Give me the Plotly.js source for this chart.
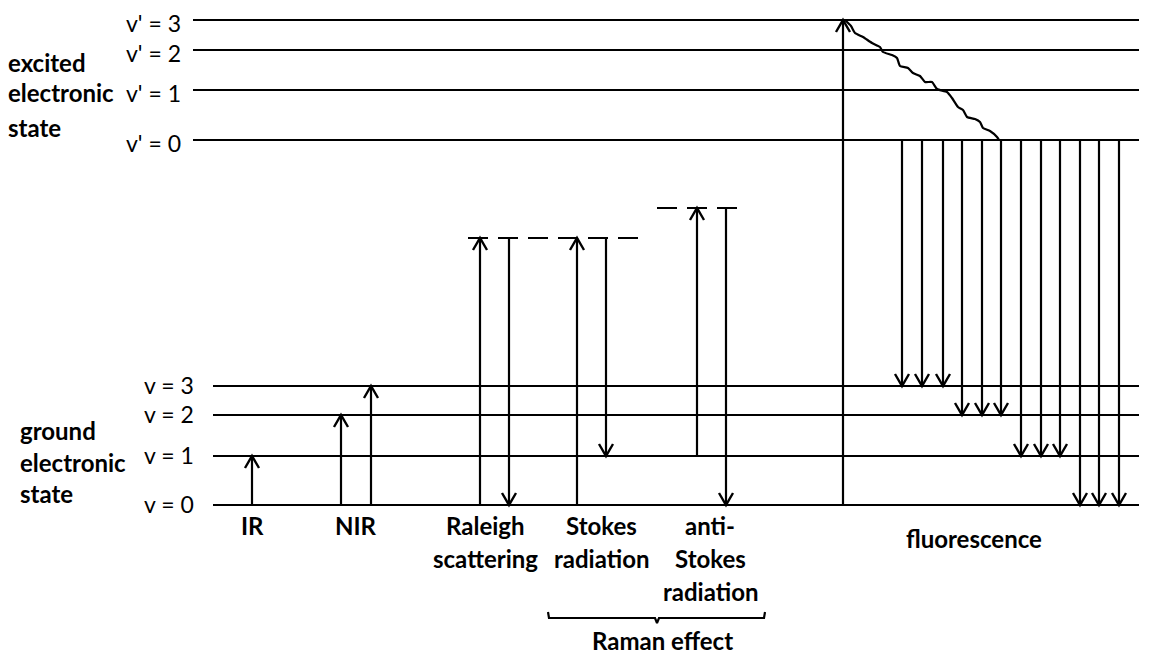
<!DOCTYPE html>
<html><head><meta charset="utf-8">
<script src="https://cdn.plot.ly/plotly-3.0.1.min.js"></script>
<style>html,body{margin:0;padding:0;background:#fff;}#chart{width:1151px;height:654px;}</style>
</head><body><div id="chart"></div>
<script>
// Energy levels (arbitrary energy units, ground v=0 at 0)
const groundLevels = [0, 49, 90, 119];          // v = 0..3
const excitedLevels = [365, 415, 455, 485];     // v' = 0..3
const virtualLevels = [267, 297];               // virtual states (Raman / Rayleigh)
const groundLabels = ["v = 0", "v = 1", "v = 2", "v = 3"];
const excitedLabels = ["v' = 0", "v' = 1", "v' = 2", "v' = 3"];

// Horizontal extents of level lines (x units)
const groundStart = 213, excitedStart = 193, levelEnd = 1139;
const virtualSpans = [[468, 638], [657, 737]];

// Transitions: x position, from energy, to energy
const transX    = [252, 341, 371, 480, 509, 577, 606, 697, 726, 843];
const transFrom = [0,   0,   0,   0,   267, 0,   267, 49,  297, 0];
const transTo   = [49,  90,  119, 267, 0,   267, 49,  297, 0,   485];

// Fluorescence emission lines (from v'=0 down to ground levels)
const fluorX  = [902, 922, 943, 962, 982, 1001, 1021, 1041, 1060, 1080, 1099, 1119];
const fluorTo = [119, 119, 119, 90, 90, 90, 49, 49, 49, 0, 0, 0];

// Vibrational relaxation (wavy line)
const waveX = [845,851,855,863,872,880,883,892,897,900,908,913,920,925,932,937,947,952,958,963,967,975,980,983,990,997,999];
const waveE = [485,479,472,468,462,458,453,450,447,439,437,432,429,423,423,416,413,407,398,395,388,386,383,377,374,368,365];

// Process labels under the diagram
const procLabels = [
  {lines:["IR"], x:252},
  {lines:["NIR"], x:356},
  {lines:["Raleigh","scattering"], x:485},
  {lines:["Stokes","radiation"], x:601},
  {lines:["anti-","Stokes","radiation"], x:710},
];
const fluorLabel = "fluorescence";
const ramanLabel = "Raman effect";
const stateLabelsExcited = ["excited","electronic","state"];
const stateLabelsGround = ["ground","electronic","state"];

const LW = 2.2, C = "#000";
const traces = [];
function seg(xs, ys, dash, w) {
  traces.push({type:"scatter", mode:"lines", x:xs, y:ys, hoverinfo:"skip",
    line:{color:C, width:w||LW, dash:dash||"solid"}, showlegend:false});
}
// Level lines
let lx=[], ly=[];
groundLevels.forEach(e=>{lx.push(groundStart, levelEnd, null); ly.push(e,e,null);});
excitedLevels.forEach(e=>{lx.push(excitedStart, levelEnd, null); ly.push(e,e,null);});
seg(lx, ly);
// Virtual levels (dashed)
virtualLevels.forEach((e,i)=>seg([virtualSpans[i][0], virtualSpans[i][1]], [e,e], "20px,10px"));

// Arrows
const HW = 7, HL = 12;
let ax=[], ay=[], hx=[], hy=[];
function arrow(x, from, to) {
  ax.push(x, x, null); ay.push(from, to, null);
  const d = to > from ? -1 : 1;
  hx.push(x-HW, x, x+HW, null); hy.push(to + d*HL, to, to + d*HL, null);
}
transX.forEach((x,i)=>arrow(x, transFrom[i], transTo[i]));
fluorX.forEach((x,i)=>arrow(x, excitedLevels[0], fluorTo[i]));
seg(ax, ay); seg(hx, hy, null, 2.4);

// Wavy relaxation
traces.push({type:"scatter", mode:"lines", x:waveX, y:waveE, hoverinfo:"skip",
  line:{color:C, width:LW, shape:"spline", smoothing:0.5}, showlegend:false});

// Raman brace
seg([548,549,655,657,659,764,765], [-107,-113,-113,-118,-113,-113,-107]);

const FONT = "Lato, 'Open Sans', sans-serif";
const ann = [];
function txt(t, x, y, opts) {
  ann.push(Object.assign({text:t, x:x, y:y, xref:"x", yref:"y", showarrow:false,
    font:{family:FONT, size:23, color:C}, xanchor:"center", yanchor:"middle"}, opts||{}));
}
groundLevels.forEach((e,i)=>txt(groundLabels[i], 196, e+1, {xanchor:"right"}));
excitedLevels.forEach((e,i)=>txt(excitedLabels[i], 183, e-3, {xanchor:"right"}));
const B = {family:FONT, size:24, color:C, weight:"bold"};
stateLabelsExcited.forEach((t,i)=>txt("<b>"+t+"</b>", 6, [443,413,378][i], {xanchor:"left", font:B}));
stateLabelsGround.forEach((t,i)=>txt("<b>"+t+"</b>", 18, [75,43,12][i], {xanchor:"left", font:B}));
const rowY = [-20, -53, -86];
procLabels.forEach(p=>p.lines.forEach((t,i)=>txt("<b>"+t+"</b>", p.x, rowY[i], {font:B})));
txt("<b>"+fluorLabel+"</b>", 974, -33, {font:B});
txt("<b>"+ramanLabel+"</b>", 662, -135, {font:B});

Plotly.newPlot("chart", traces, {
  width:1151, height:654, margin:{l:0,r:0,t:0,b:0},
  paper_bgcolor:"#fff", plot_bgcolor:"#fff",
  xaxis:{range:[0,1151], visible:false, fixedrange:true},
  yaxis:{range:[-149,505], visible:false, fixedrange:true},
  annotations: ann, showlegend:false
}, {staticPlot:true});
</script></body></html>
